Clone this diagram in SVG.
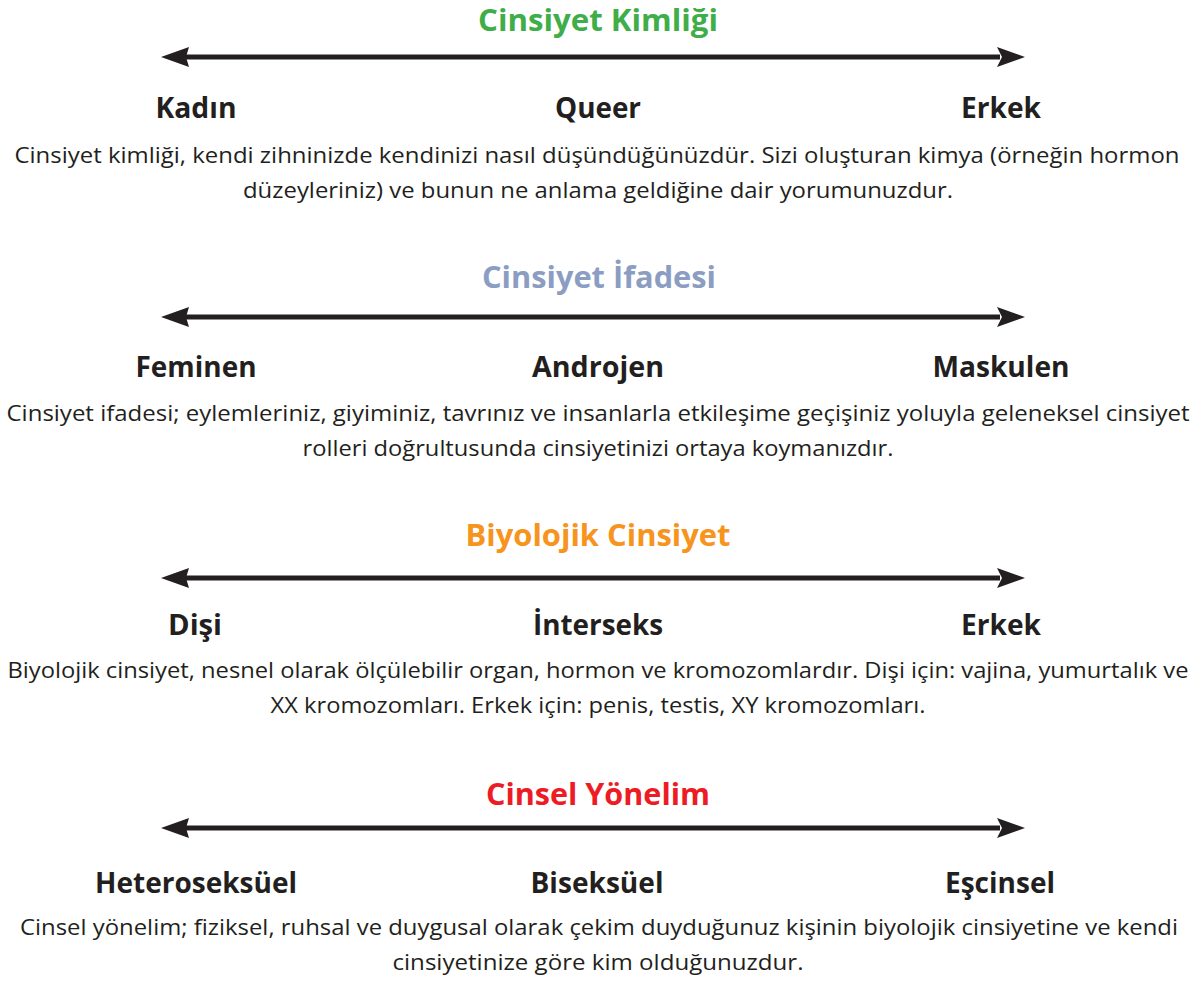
<svg xmlns="http://www.w3.org/2000/svg" width="1198" height="984" viewBox="0 0 1198 984">
<style>
.t{font-family:"Open Sans","Noto Sans","Liberation Sans",sans-serif;font-weight:700;font-size:30px;text-anchor:middle}
.l{font-family:"Open Sans","Noto Sans","Liberation Sans",sans-serif;font-weight:700;font-size:28px;fill:#231f20;text-anchor:middle}
.b{font-family:"Open Sans","Noto Sans","Liberation Sans",sans-serif;font-weight:400;font-size:21px;fill:#231f20;text-anchor:middle}
.ln{stroke:#231f20;stroke-width:5;fill:none}
.hd{fill:#231f20}
</style>
<defs>
<g id="arrow">
<line class="ln" x1="186" y1="0" x2="1000" y2="0"/>
<path class="hd" d="M161,0 L189,-10 L186,0 L189,10 Z"/>
<path class="hd" d="M1025,0 L997,-10 L1002,0 L997,10 Z"/>
</g>
</defs>
<g id="connectors">
<use href="#arrow" y="57"/>
<use href="#arrow" y="317"/>
<use href="#arrow" y="578"/>
<use href="#arrow" y="828"/>
</g>
<g id="section-kimlik">
<text class="t" x="598" y="31" fill="#3fae49" textLength="240" lengthAdjust="spacingAndGlyphs">Cinsiyet Kimliği</text>
<text class="l" x="196" y="118" textLength="81" lengthAdjust="spacingAndGlyphs">Kadın</text>
<text class="l" x="598" y="118" textLength="86" lengthAdjust="spacingAndGlyphs">Queer</text>
<text class="l" x="1001" y="118" textLength="80" lengthAdjust="spacingAndGlyphs">Erkek</text>
<text class="b" x="597" y="163" textLength="1165" lengthAdjust="spacingAndGlyphs">Cinsiyet kimliği, kendi zihninizde kendinizi nasıl düşündüğünüzdür. Sizi oluşturan kimya (örneğin hormon</text>
<text class="b" x="598" y="198" textLength="710" lengthAdjust="spacingAndGlyphs">düzeyleriniz) ve bunun ne anlama geldiğine dair yorumunuzdur.</text>
</g>
<g id="section-ifade">
<text class="t" x="599" y="288" fill="#8b9dc3" textLength="234" lengthAdjust="spacingAndGlyphs">Cinsiyet İfadesi</text>
<text class="l" x="196" y="377" textLength="121" lengthAdjust="spacingAndGlyphs">Feminen</text>
<text class="l" x="598" y="377" textLength="132" lengthAdjust="spacingAndGlyphs">Androjen</text>
<text class="l" x="1001" y="377" textLength="137" lengthAdjust="spacingAndGlyphs">Maskulen</text>
<text class="b" x="598" y="421" textLength="1183" lengthAdjust="spacingAndGlyphs">Cinsiyet ifadesi; eylemleriniz, giyiminiz, tavrınız ve insanlarla etkileşime geçişiniz yoluyla geleneksel cinsiyet</text>
<text class="b" x="598" y="456" textLength="591" lengthAdjust="spacingAndGlyphs">rolleri doğrultusunda cinsiyetinizi ortaya koymanızdır.</text>
</g>
<g id="section-biyolojik">
<text class="t" x="598" y="546" fill="#f7941d" textLength="265" lengthAdjust="spacingAndGlyphs">Biyolojik Cinsiyet</text>
<text class="l" x="195" y="635" textLength="54" lengthAdjust="spacingAndGlyphs">Dişi</text>
<text class="l" x="598" y="635" textLength="130" lengthAdjust="spacingAndGlyphs">İnterseks</text>
<text class="l" x="1001" y="635" textLength="80" lengthAdjust="spacingAndGlyphs">Erkek</text>
<text class="b" x="598" y="678" textLength="1181" lengthAdjust="spacingAndGlyphs">Biyolojik cinsiyet, nesnel olarak ölçülebilir organ, hormon ve kromozomlardır. Dişi için: vajina, yumurtalık ve</text>
<text class="b" x="598" y="713" textLength="655" lengthAdjust="spacingAndGlyphs">XX kromozomları. Erkek için: penis, testis, XY kromozomları.</text>
</g>
<g id="section-yonelim">
<text class="t" x="598" y="805" fill="#ed1c24" textLength="224" lengthAdjust="spacingAndGlyphs">Cinsel Yönelim</text>
<text class="l" x="196" y="893" textLength="202" lengthAdjust="spacingAndGlyphs">Heteroseksüel</text>
<text class="l" x="597" y="893" textLength="133" lengthAdjust="spacingAndGlyphs">Biseksüel</text>
<text class="l" x="1000" y="893" textLength="110" lengthAdjust="spacingAndGlyphs">Eşcinsel</text>
<text class="b" x="599" y="935" textLength="1158" lengthAdjust="spacingAndGlyphs">Cinsel yönelim; fiziksel, ruhsal ve duygusal olarak çekim duyduğunuz kişinin biyolojik cinsiyetine ve kendi</text>
<text class="b" x="598" y="970" textLength="411" lengthAdjust="spacingAndGlyphs">cinsiyetinize göre kim olduğunuzdur.</text>
</g>
</svg>
